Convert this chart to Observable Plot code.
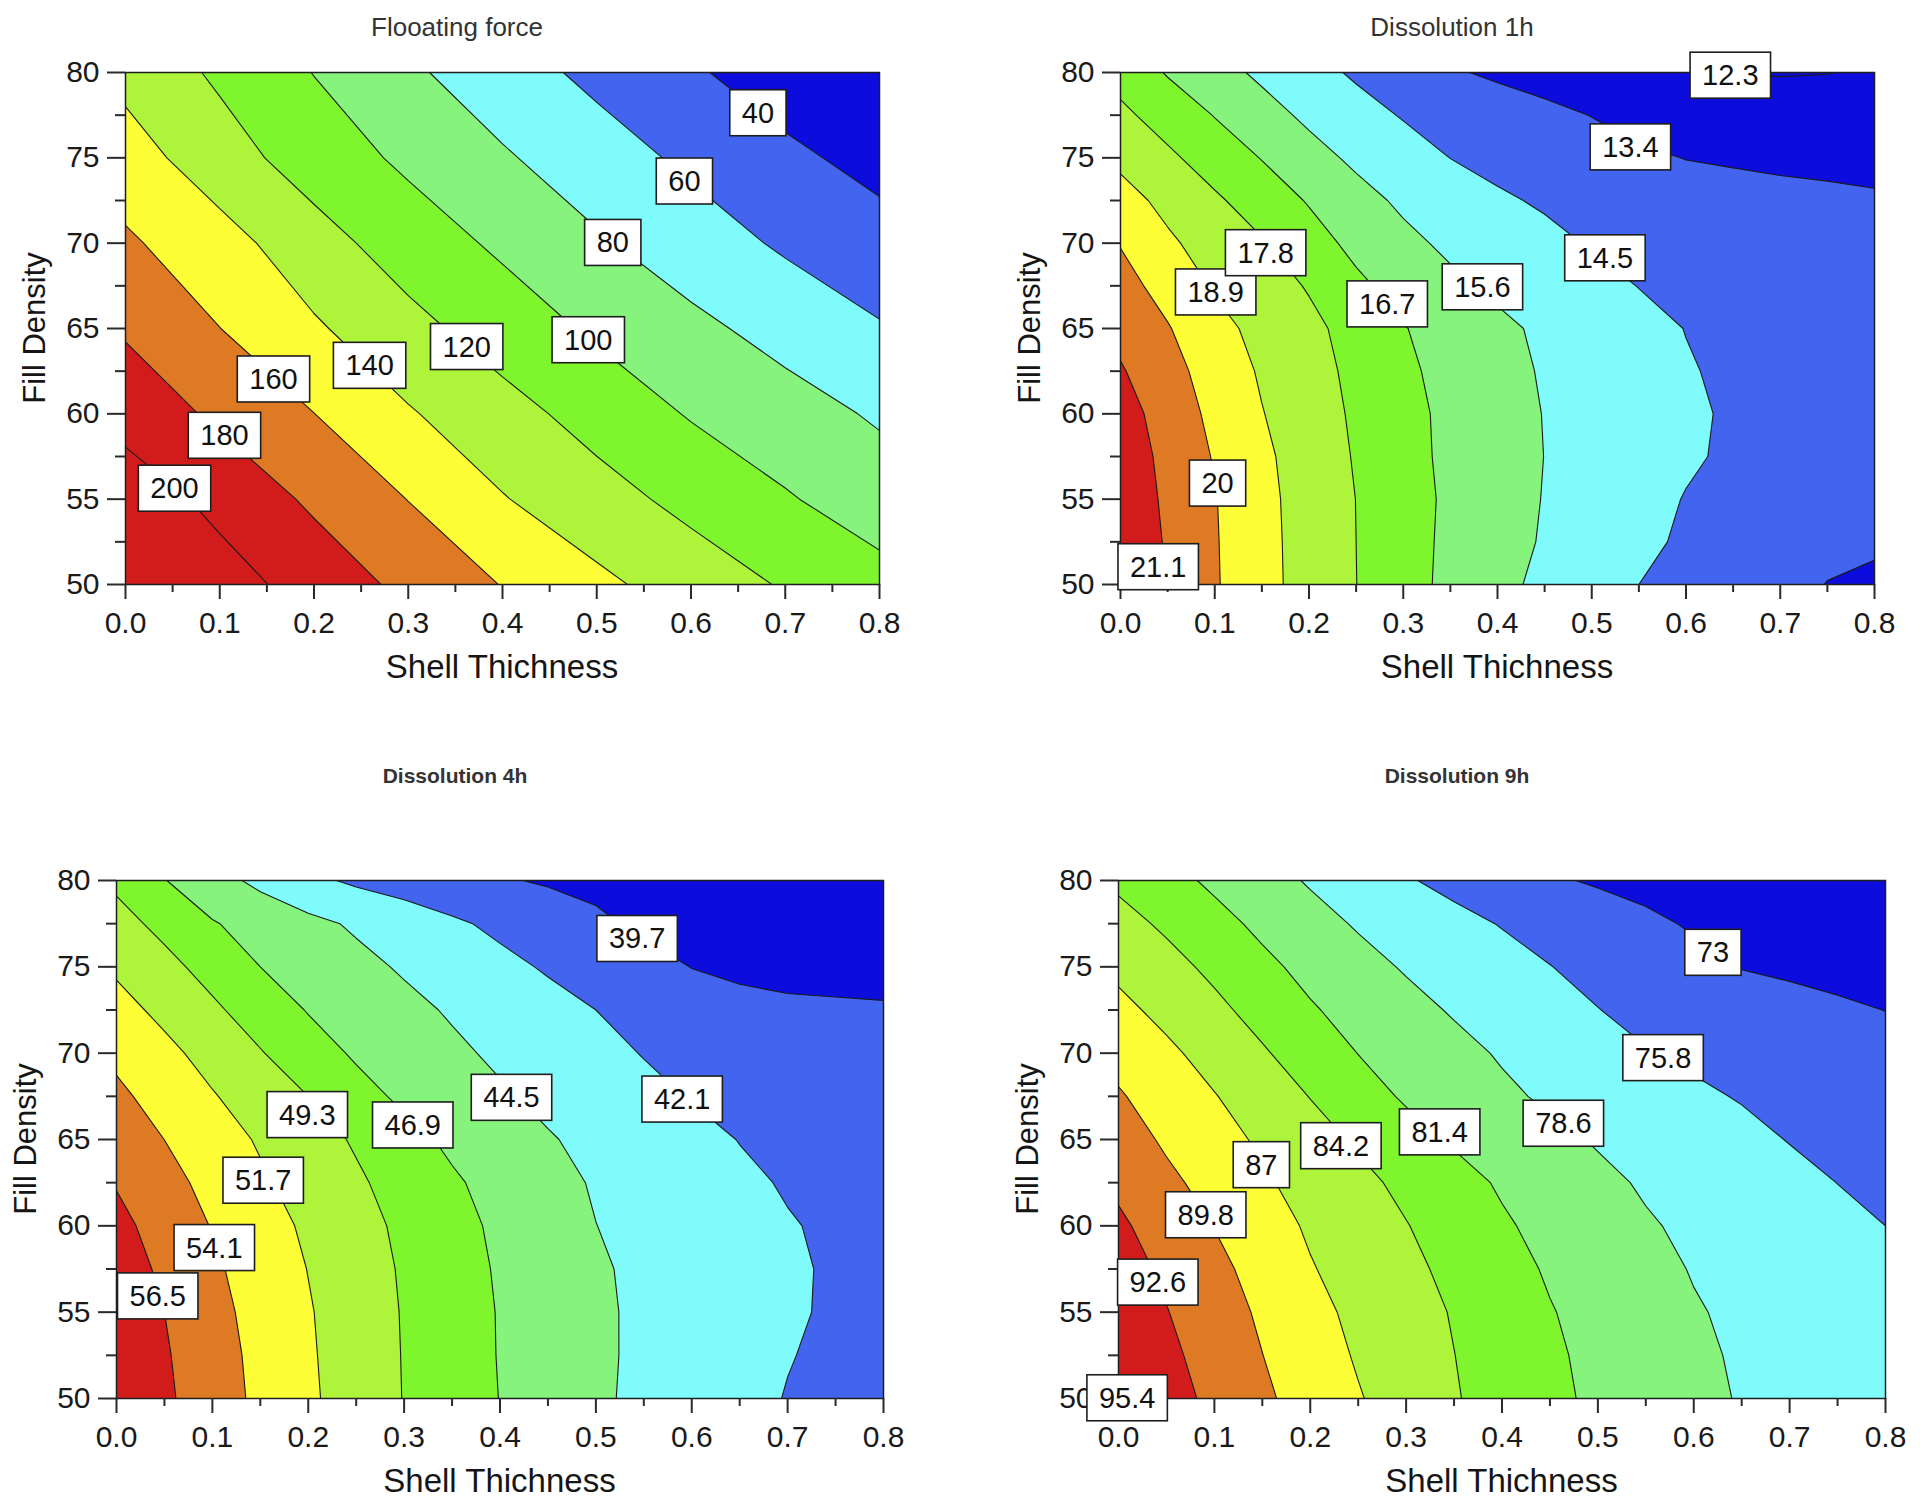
<!DOCTYPE html>
<html>
<head>
<meta charset="utf-8">
<script src="https://cdn.jsdelivr.net/npm/d3@7"></script>
<script src="https://cdn.jsdelivr.net/npm/@observablehq/plot@0.6"></script>
<style>
  html, body { margin: 0; padding: 0; background: #fff; }
  #page { position: relative; width: 1920px; height: 1505px; overflow: hidden; background: #fff;
          font-family: "Liberation Sans", Arial, sans-serif; }
  .panel { position: absolute; }
  .title { position: absolute; transform: translate(-50%, -50%); white-space: nowrap; color: #333; }
  .xtitle { position: absolute; transform: translate(-50%, -50%); white-space: nowrap; font-size: 33px; color: #151515; }
  .ytitle { position: absolute; transform: translate(-50%, -50%) rotate(-90deg); white-space: nowrap; font-size: 31px; color: #151515; }
</style>
</head>
<body>
<div id="page"></div>
<script>
// ---------------- axes ----------------
const shellTicks = [0, 0.1, 0.2, 0.3, 0.4, 0.5, 0.6, 0.7, 0.8];
const shellMinorTicks = [0.05, 0.15, 0.25, 0.35, 0.45, 0.55, 0.65, 0.75];
const densityTicks = [50, 55, 60, 65, 70, 75, 80];
const densityMinorTicks = [52.5, 57.5, 62.5, 67.5, 72.5, 77.5];

// ---------------- sampling grids ----------------
const shellCoarse = [0, 0.1, 0.2, 0.3, 0.4, 0.5, 0.6, 0.7, 0.8];
const shellFine = [0, 0.05, 0.1, 0.15, 0.2, 0.25, 0.3, 0.35, 0.4, 0.45, 0.5, 0.55, 0.6, 0.65, 0.7, 0.75, 0.8];
const densityCoarse = [50, 55, 60, 65, 70, 75, 80];
const densityFine = [50, 52.5, 55, 57.5, 60, 62.5, 65, 67.5, 70, 72.5, 75, 77.5, 80];

// Floating force: one row per fill density (densityCoarse), columns = shellCoarse
const floatingForce = [
  [225, 208.6, 191.8, 175.2, 159.3, 144.4, 130.9, 118.2, 106.8],
  [211.9, 194.2, 176.6, 159.6, 141.1, 127.5, 114.4, 101.8, 89.9],
  [192.4, 176.3, 160.2, 141.8, 127.1, 112.6, 98.5, 88, 77.6],
  [177.7, 160.2, 142.6, 126, 110.7, 96.8, 84.7, 73.2, 61.5],
  [162.9, 147.8, 127.8, 110.4, 96.5, 82.4, 69.6, 57.2, 47.8],
  [149, 128.5, 110.7, 96.2, 82.2, 68.9, 56.1, 44.3, 33.5],
  [134, 116.7, 99.5, 83.3, 68.7, 55.2, 42.5, 30, 17.5]
];
// Dissolution 1h: rows = densityFine, columns = shellFine
const dissolution1h = [
  [21.9, 21.0, 20.1, 19.24, 18.49, 17.81, 17.1, 16.45, 15.87, 15.37, 14.93, 14.5, 14.22, 13.94, 13.66, 13.38, 13.32],
  [21.87, 21.0, 20.08, 19.22, 18.48, 17.8, 17.1, 16.49, 15.99, 15.51, 15.1, 14.7, 14.37, 14.1, 13.85, 13.6, 13.46],
  [21.8, 20.92, 20.05, 19.19, 18.46, 17.79, 17.12, 16.52, 16.03, 15.56, 15.19, 14.81, 14.46, 14.25, 14.03, 13.82, 13.6],
  [21.7, 20.83, 19.92, 19.11, 18.4, 17.72, 17.05, 16.48, 16.04, 15.59, 15.27, 14.94, 14.62, 14.36, 14.14, 13.9, 13.68],
  [21.57, 20.63, 19.74, 18.94, 18.29, 17.65, 17.01, 16.47, 16.01, 15.57, 15.26, 14.96, 14.65, 14.39, 14.18, 13.96, 13.75],
  [21.2, 20.37, 19.55, 18.78, 18.18, 17.56, 16.9, 16.38, 15.93, 15.51, 15.2, 14.89, 14.57, 14.34, 14.14, 13.94, 13.74],
  [20.79, 20.07, 19.24, 18.58, 18.05, 17.43, 16.75, 16.27, 15.81, 15.43, 15.11, 14.79, 14.48, 14.29, 14.1, 13.91, 13.72],
  [20.37, 19.62, 18.79, 18.27, 17.72, 16.91, 16.32, 15.81, 15.41, 15.1, 14.79, 14.48, 14.31, 14.15, 13.97, 13.81, 13.65],
  [19.95, 19.07, 18.45, 17.89, 17.13, 16.43, 15.85, 15.4, 15.05, 14.71, 14.44, 14.3, 14.15, 14.0, 13.85, 13.72, 13.58],
  [19.3, 18.62, 17.96, 17.29, 16.62, 15.96, 15.42, 15.02, 14.62, 14.4, 14.18, 13.92, 13.77, 13.66, 13.57, 13.5, 13.44],
  [18.66, 18.0, 17.31, 16.66, 15.98, 15.4, 14.95, 14.49, 14.26, 14.02, 13.78, 13.54, 13.38, 13.32, 13.28, 13.28, 13.3],
  [18.03, 17.34, 16.66, 16.0, 15.39, 14.88, 14.43, 14.17, 13.91, 13.64, 13.38, 13.1, 12.87, 12.8, 12.77, 12.78, 12.85],
  [17.4, 16.62, 15.99, 15.4, 14.86, 14.36, 13.94, 13.51, 13.24, 13.02, 12.8, 12.57, 12.35, 12.28, 12.25, 12.28, 12.4]
];
// Dissolution 4h: rows = densityFine, columns = shellFine
const dissolution4h = [
  [58.57, 56.9, 55.23, 53.61, 52.07, 50.63, 49.23, 48.04, 46.86, 45.85, 44.84, 44.04, 43.35, 42.65, 42.02, 41.6, 41.2],
  [58.38, 56.73, 55.09, 53.49, 51.97, 50.57, 49.2, 47.99, 46.8, 45.84, 44.87, 44.1, 43.46, 42.82, 42.18, 41.74, 41.35],
  [58.17, 56.5, 54.83, 53.3, 51.87, 50.5, 49.16, 47.96, 46.78, 45.82, 44.85, 44.12, 43.52, 42.92, 42.33, 41.87, 41.5],
  [57.67, 56.08, 54.48, 53.04, 51.65, 50.34, 49.06, 47.83, 46.67, 45.71, 44.75, 44.09, 43.52, 42.96, 42.4, 41.85, 41.5],
  [57.15, 55.56, 53.99, 52.64, 51.33, 50.09, 48.85, 47.62, 46.49, 45.5, 44.52, 43.94, 43.37, 42.79, 42.22, 41.82, 41.5],
  [56.35, 54.86, 53.42, 52.03, 50.81, 49.63, 48.42, 47.19, 46.16, 45.18, 44.31, 43.7, 43.08, 42.46, 41.94, 41.55, 41.2],
  [55.48, 54.09, 52.76, 51.46, 50.27, 49.05, 47.63, 46.47, 45.56, 44.66, 43.97, 43.32, 42.67, 42.05, 41.66, 41.28, 40.9],
  [54.56, 53.24, 51.86, 50.58, 49.3, 47.7, 46.47, 45.62, 44.77, 44.02, 43.31, 42.6, 42.0, 41.69, 41.32, 40.96, 40.6],
  [53.61, 52.28, 50.89, 49.44, 47.92, 46.61, 45.76, 44.91, 44.12, 43.39, 42.66, 42.02, 41.67, 41.33, 40.98, 40.64, 40.3],
  [52.48, 51.15, 49.7, 48.21, 46.78, 45.93, 45.08, 44.27, 43.55, 42.82, 42.1, 41.2, 40.67, 40.44, 40.1, 40.0, 39.9],
  [51.35, 49.96, 48.48, 46.9, 46.0, 45.11, 44.25, 43.45, 42.66, 41.88, 41.13, 40.39, 39.66, 39.2, 39.05, 39.0, 39.0],
  [50.1, 48.68, 47.06, 46.05, 45.1, 44.19, 43.32, 42.45, 41.63, 40.84, 40.05, 39.35, 39.0, 38.82, 38.65, 38.5, 38.35],
  [48.85, 46.98, 45.4, 43.95, 42.63, 41.73, 41.11, 40.5, 39.88, 39.5, 39.22, 38.93, 38.65, 38.36, 38.08, 37.79, 37.5]
];
// Dissolution 9h: rows = densityFine, columns = shellFine
const dissolution9h = [
  [95.5, 93.71, 91.96, 90.27, 88.7, 87.18, 85.78, 84.39, 83.17, 81.97, 80.93, 80.04, 79.14, 78.46, 78.1, 77.75, 77.4],
  [94.9, 93.21, 91.52, 89.83, 88.26, 86.75, 85.49, 84.23, 83.01, 81.79, 80.8, 79.91, 79.03, 78.32, 77.88, 77.44, 77.0],
  [94.35, 92.7, 91.05, 89.41, 87.78, 86.39, 85.21, 84.03, 82.78, 81.53, 80.59, 79.68, 78.78, 78.18, 77.65, 77.13, 76.6],
  [93.73, 92.13, 90.5, 88.84, 87.17, 85.96, 84.8, 83.58, 82.3, 81.13, 80.21, 79.3, 78.47, 77.88, 77.32, 76.76, 76.2],
  [93.05, 91.39, 89.74, 88.15, 86.67, 85.48, 84.3, 83.01, 81.71, 80.69, 79.76, 78.83, 78.16, 77.57, 76.98, 76.39, 75.8],
  [92.1, 90.4, 88.84, 87.36, 86.07, 84.86, 83.6, 82.31, 81.11, 80.14, 79.16, 78.33, 77.69, 77.05, 76.41, 75.78, 75.24],
  [91.14, 89.4, 87.99, 86.59, 85.23, 83.85, 82.39, 81.1, 80.17, 79.23, 78.38, 77.71, 77.04, 76.37, 75.72, 75.2, 74.68],
  [90.05, 88.58, 87.12, 85.63, 84.13, 82.51, 81.08, 80.06, 79.05, 78.22, 77.53, 76.85, 76.17, 75.66, 75.1, 74.6, 74.12],
  [88.95, 87.52, 86.02, 84.48, 82.91, 81.36, 80.34, 79.32, 78.36, 77.55, 76.74, 75.93, 75.41, 74.94, 74.48, 74.01, 73.55],
  [87.69, 86.27, 84.81, 83.27, 81.66, 80.48, 79.39, 78.37, 77.53, 76.69, 75.85, 75.13, 74.49, 73.94, 73.59, 73.26, 72.98],
  [86.4, 85.06, 83.62, 82.01, 80.66, 79.46, 78.37, 77.53, 76.69, 75.85, 75.08, 74.32, 73.56, 72.93, 72.7, 72.5, 72.3],
  [85.1, 83.77, 82.25, 80.83, 79.53, 78.35, 77.44, 76.54, 75.67, 74.92, 74.17, 73.42, 72.78, 72.28, 71.98, 71.69, 71.4],
  [83.7, 82.28, 80.91, 79.61, 78.35, 77.19, 76.03, 75.08, 74.18, 73.29, 72.75, 72.37, 72.0, 71.62, 71.25, 70.87, 70.5]
];

// ---------------- contour levels ----------------
const floatLevels = [40, 60, 80, 100, 120, 140, 160, 180, 200];
const diss1Levels = [12.3, 13.4, 14.5, 15.6, 16.7, 17.8, 18.9, 20, 21.1];
const diss4Levels = [39.7, 42.1, 44.5, 46.9, 49.3, 51.7, 54.1, 56.5];
const diss9Levels = [73, 75.8, 78.6, 81.4, 84.2, 87, 89.8, 92.6, 95.4];

// ---------------- contour labels (value, shell thickness, fill density) ----------------
const floatLabelValue = [40, 60, 80, 100, 120, 140, 160, 180, 200];
const floatLabelShell = [0.671, 0.593, 0.517, 0.491, 0.362, 0.259, 0.157, 0.105, 0.052];
const floatLabelDensity = [77.6, 73.6, 70.0, 64.3, 63.9, 62.8, 62.0, 58.7, 55.6];

const diss1LabelValue = [12.3, 13.4, 14.5, 15.6, 16.7, 18.9, 17.8, 20, 21.1];
const diss1LabelShell = [0.647, 0.541, 0.514, 0.384, 0.283, 0.101, 0.154, 0.103, 0.04];
const diss1LabelDensity = [79.8, 75.6, 69.1, 67.4, 66.4, 67.1, 69.4, 55.9, 51.0];

const diss4LabelValue = [39.7, 42.1, 44.5, 46.9, 49.3, 51.7, 56.5, 54.1];
const diss4LabelShell = [0.543, 0.59, 0.412, 0.309, 0.199, 0.153, 0.043, 0.102];
const diss4LabelDensity = [76.6, 67.3, 67.4, 65.8, 66.4, 62.6, 55.9, 58.7];

const diss9LabelValue = [73, 75.8, 78.6, 81.4, 84.2, 89.8, 87, 92.6, 95.4];
const diss9LabelShell = [0.62, 0.568, 0.464, 0.335, 0.232, 0.091, 0.149, 0.041, 0.009];
const diss9LabelDensity = [75.8, 69.7, 65.9, 65.4, 64.6, 60.6, 63.5, 56.7, 50.0];

// ---------------- styles ----------------
const C = {
  darkBlue: "#0c0cdc", blue: "#4264ee", cyan: "#80fbfb", paleGreen: "#86f47c",
  green: "#7ef52c", chartreuse: "#aef43a", yellow: "#fefe36", orange: "#de7a24", red: "#d21c1c"
};
const rainbow = [C.darkBlue, C.blue, C.cyan, C.paleGreen, C.green, C.chartreuse, C.yellow, C.orange, C.red];

const panels = [
  { title: "Flooating force", titleX: 457, titleY: 27, titleSize: 26, titleWeight: "normal",
    frame: [125, 72, 879, 584], shell: shellCoarse, density: densityCoarse, rows: floatingForce, levels: floatLevels,
    colors: [...rainbow, C.red],
    labels: [floatLabelValue, floatLabelShell, floatLabelDensity] },
  { title: "Dissolution 1h", titleX: 1452, titleY: 27, titleSize: 26, titleWeight: "normal",
    frame: [1120, 72, 1874, 584], shell: shellFine, density: densityFine, rows: dissolution1h, levels: diss1Levels,
    colors: [C.darkBlue, ...rainbow],
    labels: [diss1LabelValue, diss1LabelShell, diss1LabelDensity] },
  { title: "Dissolution 4h", titleX: 455, titleY: 776, titleSize: 21, titleWeight: "bold",
    frame: [116, 880, 883, 1398], shell: shellFine, density: densityFine, rows: dissolution4h, levels: diss4Levels,
    colors: rainbow,
    labels: [diss4LabelValue, diss4LabelShell, diss4LabelDensity] },
  { title: "Dissolution 9h", titleX: 1457, titleY: 776, titleSize: 21, titleWeight: "bold",
    frame: [1118, 880, 1885, 1398], shell: shellFine, density: densityFine, rows: dissolution9h, levels: diss9Levels,
    colors: [...rainbow, C.red],
    labels: [diss9LabelValue, diss9LabelShell, diss9LabelDensity] }
];

const page = document.getElementById("page");
const M = { left: 130, right: 50, top: 56, bottom: 110 };
const FONT = "Liberation Sans, Arial, sans-serif";

function addDiv(cls, text, x, y, extra) {
  const d = document.createElement("div");
  d.className = cls;
  d.textContent = text;
  d.style.left = x + "px";
  d.style.top = y + "px";
  Object.assign(d.style, extra || {});
  page.appendChild(d);
}

function boxLabels(svg) {
  const ns = "http://www.w3.org/2000/svg";
  svg.querySelectorAll('g[aria-label="text"] text').forEach((t) => {
    const b = t.getBBox();
    const r = document.createElementNS(ns, "rect");
    r.setAttribute("x", b.x - 12);
    r.setAttribute("y", b.y - 7);
    r.setAttribute("width", b.width + 24);
    r.setAttribute("height", b.height + 14);
    r.setAttribute("fill", "#ffffff");
    r.setAttribute("stroke", "#1e1e1e");
    r.setAttribute("stroke-width", 1.6);
    const tr = t.getAttribute("transform");
    if (tr) r.setAttribute("transform", tr);
    t.parentNode.insertBefore(r, t);
  });
}

for (const p of panels) {
  const [L, T, R, B] = p.frame;
  const nx = p.shell.length, ny = p.density.length;
  const dxs = p.shell[1] - p.shell[0], dys = p.density[1] - p.density[0];
  const values = p.rows.flat();
  const [lv, lx, ly] = p.labels;
  const labelTable = lv.map((v, i) => ({ text: String(v), shell: lx[i], density: ly[i] }));

  const svg = Plot.plot({
    width: R - L + M.left + M.right,
    height: B - T + M.top + M.bottom,
    marginLeft: M.left, marginRight: M.right, marginTop: M.top, marginBottom: M.bottom,
    style: { background: "transparent", overflow: "visible", fontFamily: FONT },
    x: { domain: [0, 0.8] },
    y: { domain: [50, 80] },
    color: { type: "threshold", domain: p.levels, range: p.colors },
    marks: [
      Plot.contour(values, {
        width: nx, height: ny,
        x1: p.shell[0] - dxs / 2, x2: p.shell[nx - 1] + dxs / 2,
        y1: p.density[0] - dys / 2, y2: p.density[ny - 1] + dys / 2,
        fill: Plot.identity,
        thresholds: [0, ...p.levels],
        stroke: "#1a1a1a", strokeWidth: 1.1, clip: true
      }),
      Plot.frame({ stroke: "#1e1e1e", strokeWidth: 1.5 }),
      Plot.axisX(shellMinorTicks, { tickSize: 8, tickFormat: () => "", strokeWidth: 2, stroke: "#2a2a2a", label: null }),
      Plot.axisX(shellTicks, { tickSize: 15, tickPadding: 12, tickFormat: d3.format(".1f"), fontSize: 30,
                                strokeWidth: 2, stroke: "#2a2a2a", fill: "#1a1a1a", label: null }),
      Plot.axisY(densityMinorTicks, { tickSize: 10, tickFormat: () => "", strokeWidth: 2, stroke: "#2a2a2a", label: null }),
      Plot.axisY(densityTicks, { tickSize: 18, tickPadding: 8, fontSize: 30,
                                 strokeWidth: 2, stroke: "#2a2a2a", fill: "#1a1a1a", label: null }),
      Plot.text(labelTable, { x: "shell", y: "density", text: "text", fontSize: 29, fill: "#111" })
    ]
  });
  svg.classList.add("panel");
  svg.style.left = (L - M.left) + "px";
  svg.style.top = (T - M.top) + "px";
  svg.style.maxWidth = "none";
  page.appendChild(svg);
  boxLabels(svg);

  addDiv("title", p.title, p.titleX, p.titleY, { fontSize: p.titleSize + "px", fontWeight: p.titleWeight });
  addDiv("xtitle", "Shell Thichness", (L + R) / 2, B + 83);
  addDiv("ytitle", "Fill Density", L - 90, (T + B) / 2);
}
</script>
</body>
</html>
